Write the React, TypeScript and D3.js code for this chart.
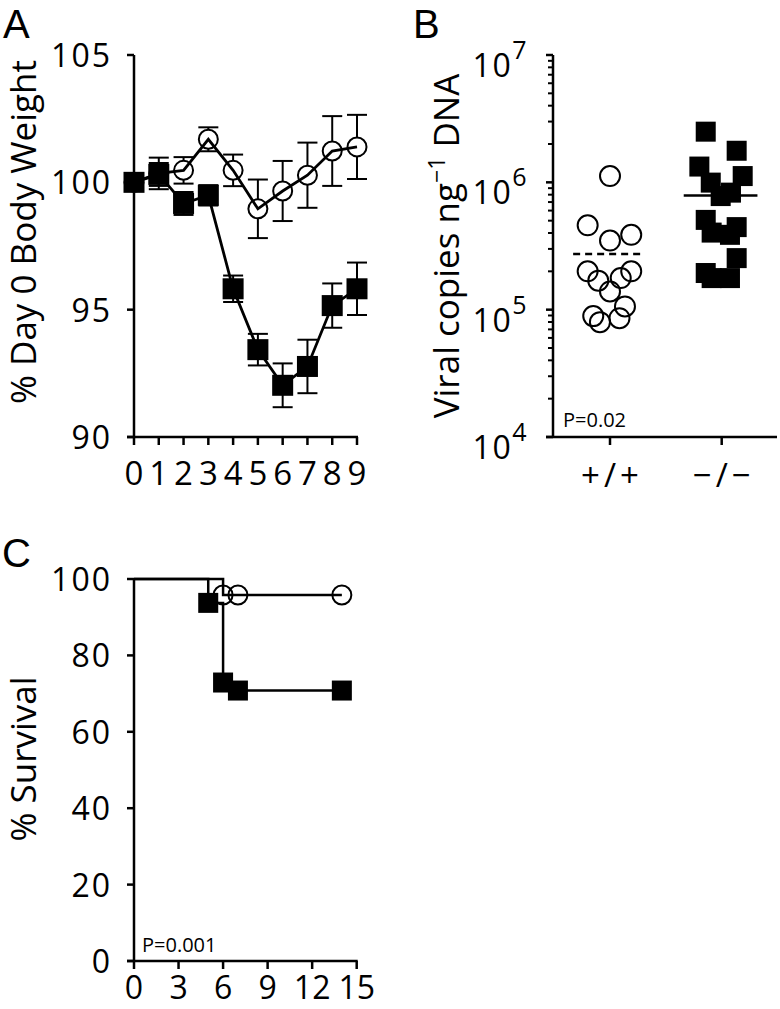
import React from 'react';
import * as d3 from 'd3';

const FONT = '"Open Sans", sans-serif';
const LETTER_FONT = '"Liberation Sans", Arial, sans-serif';

// Panel A: body weight
const days = [0, 1, 2, 3, 4, 5, 6, 7, 8, 9];
const wtWeight = [100, 100.35, 100.47, 101.69, 100.47, 98.96, 99.66, 100.28, 101.23, 101.39];
const wtErr = [0, 0.62, 0.52, 0.47, 0.62, 1.15, 1.18, 1.28, 1.37, 1.26];
const koWeight = [100, 100.31, 99.17, 99.49, 95.82, 93.43, 92.03, 92.77, 95.16, 95.82];
const koErr = [0, 0.45, 0.45, 0.4, 0.52, 0.62, 0.86, 1.05, 0.87, 1.03];
const weightTicks = [90, 95, 100, 105];

// Panel B: viral load
const genotypes = ['+/+', '\u2212/\u2212'];
const wtViral = [1.12e6, 4.6e5, 3.87e5, 3.49e5, 2.0e5, 2.0e5, 1.69e5, 1.77e5, 1.39e5, 1.06e5, 8.9e4, 7.98e4, 8.57e4];
const wtViralJitter = [0, -0.2, 0.19, 0, -0.2, 0.19, -0.105, 0.096, 0, 0.134, -0.15, -0.09, 0.085];
const koViral = [2.5e6, 1.77e6, 1.33e6, 1.12e6, 9.95e5, 8.3e5, 7.8e5, 5.07e5, 4.45e5, 4.03e5, 3.87e5, 2.54e5, 1.94e5, 1.77e5, 1.77e5];
const koViralJitter = [-0.143, 0.134, -0.2, 0.188, -0.098, 0.083, -0.009, -0.143, 0.134, -0.09, 0.074, 0.134, -0.143, -0.09, 0.074];
const wtViralMean = 2.74e5;
const koViralMean = 7.87e5;
const viralExponents = [4, 5, 6, 7];

// Panel C: survival
const kmWtDays = [0, 6, 14];
const kmWtSurv = [100, 95.8, 95.8];
const kmWtMarkDays = [6, 7, 14];
const kmWtMarkSurv = [95.8, 95.8, 95.8];
const kmKoDays = [0, 5, 6, 7, 14];
const kmKoSurv = [100, 93.75, 72.9, 70.8, 70.8];
const kmKoMarkDays = [5, 6, 7, 14];
const kmKoMarkSurv = [93.75, 72.9, 70.8, 70.8];
const survivalTicks = [0, 20, 40, 60, 80, 100];
const survivalDayTicks = [0, 3, 6, 9, 12, 15];

const AX = 2.5;
const TICK_FS = 32;
const TITLE_FS = 35;

export default function App() {
  // Scales
  const xA = d3.scaleLinear().domain([0, 9]).range([134, 357]);
  const yA = d3.scaleLinear().domain([90, 105]).range([437, 55]);
  const xB = d3.scaleLinear().domain([0, 1]).range([610, 721.7]);
  const yB = d3.scaleLog().domain([1e4, 1e7]).range([437, 55]);
  const xC = d3.scaleLinear().domain([0, 15]).range([134, 356.7]);
  const yC = d3.scaleLinear().domain([0, 100]).range([961, 579]);

  const lineA = d3.line<number>().x((_, i) => xA(days[i])).y((d) => yA(d));
  const stepC = (ds: number[], ss: number[]) =>
    d3.line<number>().curve(d3.curveStepAfter).x((_, i) => xC(ds[i])).y((d) => yC(d))(ss) || '';

  const R = 9.5;
  const SQ = 21;

  const errBars = (vals: number[], errs: number[], gap: number, key: string) =>
    vals.map((v, i) => {
      if (!errs[i]) return null;
      const x = xA(days[i]);
      const yt = yA(v + errs[i]);
      const yb = yA(v - errs[i]);
      const yc = yA(v);
      return (
        <g key={key + i} stroke="#000" strokeWidth={2}>
          {yc - gap > yt && <line x1={x} x2={x} y1={yt} y2={yc - gap} />}
          {yc + gap < yb && <line x1={x} x2={x} y1={yc + gap} y2={yb} />}
          <line x1={x - 10} x2={x + 10} y1={yt} y2={yt} />
          <line x1={x - 10} x2={x + 10} y1={yb} y2={yb} />
        </g>
      );
    });

  const minorB = yB.ticks().filter((t) => Math.abs(Math.log10(t) - Math.round(Math.log10(t))) > 1e-6);

  return (
    <svg width={780} height={1009} style={{ position: 'absolute', left: 0, top: 0, background: '#fff' }} fontFamily={FONT}>
      <rect x={0} y={0} width={780} height={1009} fill="#fff" />
      {/* Panel letters */}
      <text x={3} y={38} fontFamily={LETTER_FONT} fontSize={40}>A</text>
      <text x={413} y={38} fontFamily={LETTER_FONT} fontSize={40}>B</text>
      <text x={2} y={567} fontFamily={LETTER_FONT} fontSize={40}>C</text>

      {/* ===== Panel A ===== */}
      <g>
        <line x1={134} x2={134} y1={yA(105)} y2={yA(90)} stroke="#000" strokeWidth={AX} />
        <line x1={127} x2={xA(9) + 1} y1={yA(90)} y2={yA(90)} stroke="#000" strokeWidth={AX} />
        {weightTicks.map((t) => (
          <g key={'ya' + t}>
            <line x1={127} x2={134} y1={yA(t)} y2={yA(t)} stroke="#000" strokeWidth={AX} />
            <text x={112} y={yA(t) + 12} textAnchor="end" fontSize={TICK_FS} letterSpacing={2}>{t}</text>
          </g>
        ))}
        {days.map((d) => (
          <g key={'xa' + d}>
            <line x1={xA(d)} x2={xA(d)} y1={yA(90)} y2={yA(90) + 8} stroke="#000" strokeWidth={AX} />
            <text x={xA(d)} y={485} textAnchor="middle" fontSize={TICK_FS + 1}>{d}</text>
          </g>
        ))}
        <text transform={`translate(36,232) rotate(-90)`} textAnchor="middle" fontSize={TITLE_FS}>
          % Day 0 Body Weight
        </text>
        {errBars(wtWeight, wtErr, R, 'ew')}
        {errBars(koWeight, koErr, 0, 'ek')}
        <path d={lineA(wtWeight) || ''} fill="none" stroke="#000" strokeWidth={2.8} />
        <path d={lineA(koWeight) || ''} fill="none" stroke="#000" strokeWidth={2.8} />
        {wtWeight.map((v, i) => (
          <circle key={'cw' + i} cx={xA(days[i])} cy={yA(v)} r={R} fill="none" stroke="#000" strokeWidth={2} />
        ))}
        {koWeight.map((v, i) => (
          <rect key={'sk' + i} x={xA(days[i]) - SQ / 2} y={yA(v) - SQ / 2} width={SQ} height={SQ} fill="#000" />
        ))}
      </g>

      {/* ===== Panel B ===== */}
      <g>
        <line x1={553} x2={553} y1={yB(1e7)} y2={yB(1e4)} stroke="#000" strokeWidth={AX} />
        <line x1={546} x2={777} y1={yB(1e4)} y2={yB(1e4)} stroke="#000" strokeWidth={AX} />
        {minorB.map((t) => (
          <line key={'mb' + t} x1={548} x2={553} y1={yB(t)} y2={yB(t)} stroke="#000" strokeWidth={2} />
        ))}
        {viralExponents.map((e) => (
          <g key={'yb' + e}>
            <line x1={546} x2={553} y1={yB(Math.pow(10, e))} y2={yB(Math.pow(10, e))} stroke="#000" strokeWidth={AX} />
            <text x={528} y={yB(Math.pow(10, e)) + 22} textAnchor="end" fontSize={TICK_FS} letterSpacing={1.5}>
              10<tspan dy={-18} fontSize={25}>{e}</tspan>
            </text>
          </g>
        ))}
        {genotypes.map((g, i) => (
          <g key={'xb' + i}>
            <line x1={xB(i)} x2={xB(i)} y1={yB(1e4)} y2={yB(1e4) + 8} stroke="#000" strokeWidth={AX} />
            <text x={xB(i) + 2} y={487} textAnchor="middle" fontSize={TICK_FS + 1} letterSpacing={4}>{g}</text>
          </g>
        ))}
        <text transform={`translate(459,${(yB(1e7) + yB(1e4)) / 2}) rotate(-90)`} textAnchor="middle" fontSize={TITLE_FS}>
          Viral copies ng<tspan dy={-14} fontSize={23}>{'\u22121'}</tspan>
          <tspan dy={14}> DNA</tspan>
        </text>
        <text x={563} y={427} fontSize={20}>P=0.02</text>
        {wtViral.map((v, i) => (
          <circle key={'vb' + i} cx={xB(wtViralJitter[i])} cy={yB(v)} r={10} fill="none" stroke="#000" strokeWidth={2} />
        ))}
        {koViral.map((v, i) => (
          <rect key={'vk' + i} x={xB(1 + koViralJitter[i]) - 10} y={yB(v) - 10} width={20} height={20} fill="#000" />
        ))}
        <line x1={xB(-0.33)} x2={xB(0.3)} y1={yB(wtViralMean)} y2={yB(wtViralMean)} stroke="#000" strokeWidth={2.5} strokeDasharray="7,5" />
        <line x1={xB(1 - 0.34)} x2={xB(1 + 0.32)} y1={yB(koViralMean)} y2={yB(koViralMean)} stroke="#000" strokeWidth={2.5} />
      </g>

      {/* ===== Panel C ===== */}
      <g>
        <line x1={134} x2={134} y1={yC(100)} y2={yC(0)} stroke="#000" strokeWidth={AX} />
        <line x1={127} x2={xC(15) + 1} y1={yC(0)} y2={yC(0)} stroke="#000" strokeWidth={AX} />
        {survivalTicks.map((t) => (
          <g key={'yc' + t}>
            <line x1={127} x2={134} y1={yC(t)} y2={yC(t)} stroke="#000" strokeWidth={AX} />
            <text x={112} y={yC(t) + 12} textAnchor="end" fontSize={TICK_FS} letterSpacing={2}>{t}</text>
          </g>
        ))}
        {survivalDayTicks.map((d) => (
          <g key={'xc' + d}>
            <line x1={xC(d)} x2={xC(d)} y1={yC(0)} y2={yC(0) + 8} stroke="#000" strokeWidth={AX} />
            <text x={xC(d)} y={999} textAnchor="middle" fontSize={TICK_FS}>{d}</text>
          </g>
        ))}
        <text transform={`translate(36,759) rotate(-90)`} textAnchor="middle" fontSize={TITLE_FS}>
          % Survival
        </text>
        <text x={142} y={952} fontSize={20}>P=0.001</text>
        <path d={stepC(kmWtDays, kmWtSurv)} fill="none" stroke="#000" strokeWidth={2.5} />
        <path d={stepC(kmKoDays, kmKoSurv)} fill="none" stroke="#000" strokeWidth={2.5} />
        {kmWtMarkDays.map((d, i) => (
          <circle key={'kw' + i} cx={xC(d)} cy={yC(kmWtMarkSurv[i])} r={9.5} fill="none" stroke="#000" strokeWidth={2} />
        ))}
        {kmKoMarkDays.map((d, i) => (
          <rect key={'kk' + i} x={xC(d) - 10} y={yC(kmKoMarkSurv[i]) - 10} width={20} height={20} fill="#000" />
        ))}
      </g>
    </svg>
  );
}
